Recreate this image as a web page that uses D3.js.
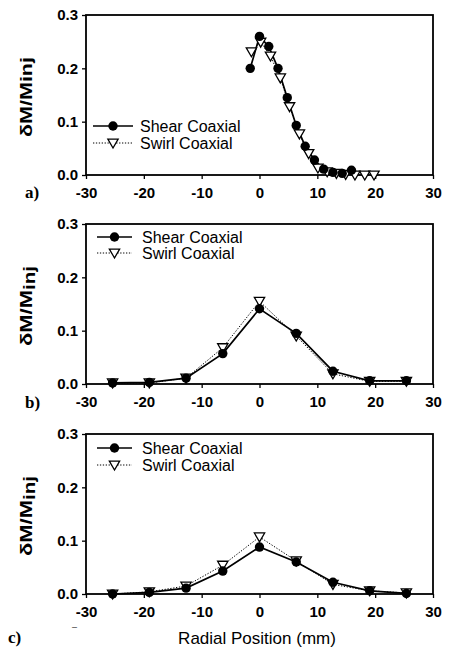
<!DOCTYPE html>
<html><head><meta charset="utf-8">
<script src="https://cdn.jsdelivr.net/npm/d3@7"></script>
<style>body{margin:0;background:#fff}svg{display:block}</style>
</head><body>
<svg id="chart" width="450" height="661"></svg>
<script>
const xTicks = [-30, -20, -10, 0, 10, 20, 30];
const yTicks = [0, 0.1, 0.2, 0.3];
const panelLabels = ["a)", "b)", "c)"];
const seriesNames = ["Shear Coaxial", "Swirl Coaxial"];
const xTitle = "Radial Position (mm)";

// panel a
const aShearX = [-1.6, 0, 1.6, 3.2, 4.8, 6.35, 7.9, 9.5, 11.1, 12.7, 14.3, 15.9];
const aShearY = [0.200, 0.260, 0.241, 0.200, 0.145, 0.093, 0.054, 0.028, 0.011, 0.005, 0.003, 0.009];
const aSwirlX = [-1.4, 0.2, 1.9, 3.6, 5.2, 6.9, 8.5, 10.1, 11.7, 13.3, 14.9, 16.5, 18.2, 19.8];
const aSwirlY = [0.231, 0.249, 0.223, 0.182, 0.128, 0.077, 0.040, 0.013, 0.006, 0.003, 0.001, 0.000, 0.000, 0.000];
// panels b, c
const bcX = [-25.4, -19.05, -12.7, -6.35, 0, 6.35, 12.7, 19.05, 25.4];
const bShearY = [0.002, 0.003, 0.011, 0.057, 0.141, 0.095, 0.024, 0.006, 0.006];
const bSwirlY = [0.002, 0.002, 0.011, 0.068, 0.155, 0.090, 0.019, 0.005, 0.005];
const cShearY = [0.000, 0.003, 0.011, 0.043, 0.088, 0.060, 0.022, 0.006, 0.001];
const cSwirlY = [0.000, 0.004, 0.015, 0.054, 0.107, 0.062, 0.018, 0.006, 0.002];

const panels = [
  {top: 15, bottom: 175, shear: aShearX.map((x,i)=>[x,aShearY[i]]), swirl: aSwirlX.map((x,i)=>[x,aSwirlY[i]]),
   leg: {x1: 93, x2: 133, tx: 140, y1: 126, y2: 143}, lab: {x: 25, y: 198}, sub: false},
  {top: 224, bottom: 384, shear: bcX.map((x,i)=>[x,bShearY[i]]), swirl: bcX.map((x,i)=>[x,bSwirlY[i]]),
   leg: {x1: 97, x2: 132, tx: 142, y1: 237, y2: 253}, lab: {x: 25, y: 408}, sub: true},
  {top: 434, bottom: 594, shear: bcX.map((x,i)=>[x,cShearY[i]]), swirl: bcX.map((x,i)=>[x,cSwirlY[i]]),
   leg: {x1: 97, x2: 132, tx: 142, y1: 448, y2: 465}, lab: {x: 8, y: 643}, sub: true}
];

const svg = d3.select("#chart");
const L = 86, R = 433;
const x = d3.scaleLinear().domain([-30, 30]).range([L, R]);
const font = "'Liberation Sans', Arial, Helvetica, sans-serif";
const tri = d3.symbol().type(d3.symbolTriangle).size(46);

panels.forEach((p, pi) => {
  const y = d3.scaleLinear().domain([0, 0.3]).range([p.bottom, p.top]);
  const g = svg.append("g");

  // axes
  const xa = g.append("g").attr("transform", `translate(0,${p.bottom})`)
    .call(d3.axisBottom(x).tickValues(xTicks).tickSize(4).tickFormat(d3.format("d")));
  const ya = g.append("g").attr("transform", `translate(${L},0)`)
    .call(d3.axisLeft(y).tickValues(yTicks).tickSize(4).tickFormat(d3.format(".1f")));
  [xa, ya].forEach(a => {
    a.select(".domain").remove();
    a.selectAll(".tick line").attr("stroke", "#000").attr("stroke-width", 1.3);
    a.selectAll("text").attr("font-family", font).attr("font-weight", "bold").attr("font-size", 15).attr("fill", "#000");
  });
  xa.selectAll("text").attr("dy", "1.05em").text(d => d < 0 ? "-" + Math.abs(d) : d);
  ya.selectAll("text").attr("x", -8);

  // frame
  g.append("rect").attr("x", L).attr("y", p.top).attr("width", R - L).attr("height", p.bottom - p.top)
    .attr("fill", "none").attr("stroke", "#000").attr("stroke-width", 1.8);

  // y label
  const yl = g.append("text")
    .attr("transform", `translate(32,${(p.top + p.bottom) / 2 + 2}) rotate(-90)`)
    .attr("text-anchor", "middle").attr("font-family", font).attr("font-weight", "bold")
    .attr("font-size", 17).attr("fill", "#000")
    .attr("textLength", 80).attr("lengthAdjust", "spacingAndGlyphs");
  if (p.sub) {
    yl.append("tspan").text("δM/M");
    yl.append("tspan").attr("dy", 3).attr("font-size", 16).text("inj");
  } else {
    yl.text("δM/Minj");
  }

  const line = d3.line().x(d => x(d[0])).y(d => y(d[1]));
  // swirl
  g.append("path").datum(p.swirl).attr("d", line).attr("fill", "none")
    .attr("stroke", "#000").attr("stroke-width", 1).attr("stroke-dasharray", "1.3,1.6");
  // shear
  g.append("path").datum(p.shear).attr("d", line).attr("fill", "none")
    .attr("stroke", "#000").attr("stroke-width", 1.7);
  g.selectAll(".sw").data(p.swirl).enter().append("path")
    .attr("transform", d => `translate(${x(d[0])},${y(d[1]) - 1}) rotate(180)`)
    .attr("d", tri).attr("fill", "#fff").attr("stroke", "#000").attr("stroke-width", 1.3);
  g.selectAll(".sh").data(p.shear).enter().append("circle")
    .attr("cx", d => x(d[0])).attr("cy", d => y(d[1])).attr("r", 4.7).attr("fill", "#000");

  // legend
  const lg = p.leg;
  g.append("line").attr("x1", lg.x1).attr("x2", lg.x2).attr("y1", lg.y1).attr("y2", lg.y1)
    .attr("stroke", "#000").attr("stroke-width", 1.7);
  g.append("circle").attr("cx", (lg.x1 + lg.x2) / 2).attr("cy", lg.y1).attr("r", 4.7).attr("fill", "#000");
  g.append("line").attr("x1", lg.x1).attr("x2", lg.x2).attr("y1", lg.y2).attr("y2", lg.y2)
    .attr("stroke", "#000").attr("stroke-width", 1).attr("stroke-dasharray", "1.3,1.6");
  g.append("path").attr("transform", `translate(${(lg.x1 + lg.x2) / 2},${lg.y2 - 1}) rotate(180)`)
    .attr("d", tri).attr("fill", "#fff").attr("stroke", "#000").attr("stroke-width", 1.3);
  [lg.y1, lg.y2].forEach((yy, i) => {
    g.append("text").attr("x", lg.tx).attr("y", yy).attr("dy", "0.35em")
      .attr("font-family", font).attr("font-size", 16).attr("fill", "#000").text(seriesNames[i]);
  });

  // panel label
  g.append("text").attr("x", p.lab.x).attr("y", p.lab.y)
    .attr("font-family", "'Liberation Serif', 'Times New Roman', serif").attr("font-weight", "bold")
    .attr("font-size", 17).attr("fill", "#000").text(panelLabels[pi]);
});

svg.append("text").attr("x", 257).attr("y", 638).attr("dy", "0.35em").attr("text-anchor", "middle")
  .attr("font-family", font).attr("font-size", 17).attr("fill", "#000").text(xTitle);
svg.append("text").attr("x", 72).attr("y", 630).attr("font-family", font).attr("font-size", 9)
  .attr("fill", "#333").text("–");
</script>
</body></html>
